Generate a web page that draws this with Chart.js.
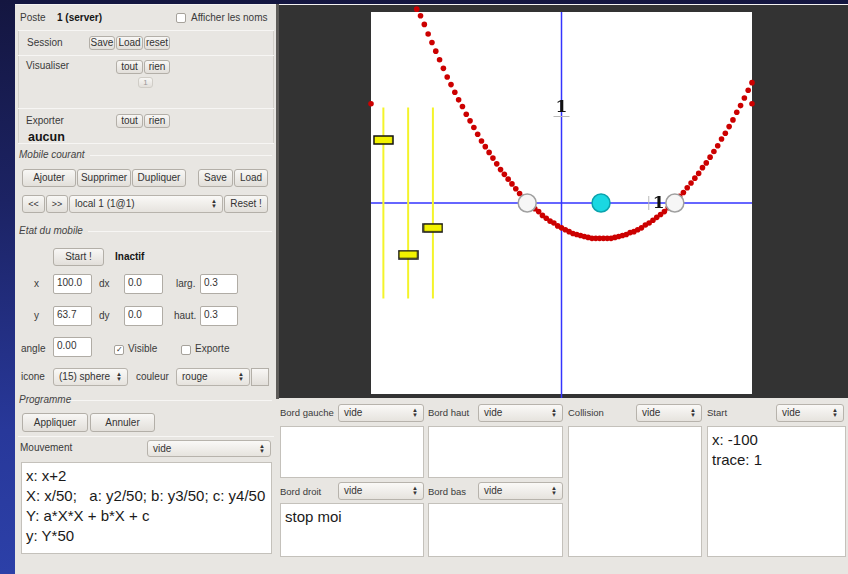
<!DOCTYPE html>
<html>
<head>
<meta charset="utf-8">
<script src="https://cdn.jsdelivr.net/npm/chart.js@4"></script>
<style>
  body { margin:0; width:848px; height:574px; overflow:hidden; position:relative;
         background: linear-gradient(180deg, #141640 0%, #1c2364 35%, #28389a 75%, #2c40a8 100%);
         font-family: "Liberation Sans", Arial, sans-serif; }
  .a { position:absolute; box-sizing:border-box; white-space:nowrap; }
  .lbl { font-size:10px; color:#3a3a3a; line-height:14px; }
  .b { font-weight:bold; color:#151515; }
  .it { font-style:italic; color:#444; }
  .btn { font-size:10px; color:#333; text-align:center; border:1px solid #b3afa8; border-radius:3px;
         background: linear-gradient(#f8f7f5, #e2dfda); }
  .inp { font-size:10px; color:#333; background:#fff; border:1px solid #b0aca5; border-radius:2px; padding:2px 0 0 3px; }
  .sel { font-size:10px; color:#333; border:1px solid #b7b3ac; border-radius:3px; padding-left:5px;
         background: linear-gradient(#faf9f7, #e6e3de); }
  .arr { position:absolute; right:5px; top:3px; font-size:6px; line-height:5px; color:#333; }
  .sep { height:1px; background:#cbc8c2; border-bottom:1px solid #f7f6f4; }
  .chk { width:10px; height:10px; background:#fff; border:1px solid #a6a29b; border-radius:2px;
         font-size:8px; line-height:8px; text-align:center; color:#333; }
  .txt { background:#fff; border:1px solid #c4c1bb; font-size:15px; color:#1a1a1a; line-height:20px; padding:3px 0 0 4px; }
  .sm { font-size:9.5px; }
</style>
</head>
<body>
<canvas id="scene" width="569" height="393" class="a" style="left:279px; top:5px;"></canvas>
<script>
// trace of the mobile: x goes -76..100 step 2, X = x/50
const traceX = [-1.52, -1.48, -1.44, -1.40, -1.36, -1.32, -1.28, -1.24, -1.20, -1.16, -1.12, -1.08, -1.04, -1.00,
  -0.96, -0.92, -0.88, -0.84, -0.80, -0.76, -0.72, -0.68, -0.64, -0.60, -0.56, -0.52, -0.48, -0.44, -0.40,
  -0.36, -0.32, -0.28, -0.24, -0.20, -0.16, -0.12, -0.08, -0.04, 0.00, 0.04, 0.08, 0.12, 0.16, 0.20, 0.24,
  0.28, 0.32, 0.36, 0.40, 0.44, 0.48, 0.52, 0.56, 0.60, 0.64, 0.68, 0.72, 0.76, 0.80, 0.84, 0.88, 0.92,
  0.96, 1.00, 1.04, 1.08, 1.12, 1.16, 1.20, 1.24, 1.28, 1.32, 1.36, 1.40, 1.44, 1.48, 1.52, 1.56, 1.60,
  1.64, 1.68, 1.72, 1.76, 1.80, 1.84, 1.88, 1.92, 1.96, 2.00];
const traceY = [2.03, 1.96, 1.87, 1.77, 1.68, 1.59, 1.50, 1.41, 1.32, 1.24, 1.16, 1.08, 1.01, 0.93,
  0.86, 0.79, 0.72, 0.65, 0.59, 0.53, 0.47, 0.41, 0.35, 0.30, 0.25, 0.20, 0.15, 0.10, 0.06,
  0.02, -0.02, -0.06, -0.09, -0.13, -0.16, -0.19, -0.21, -0.24, -0.26, -0.28, -0.30, -0.32, -0.33, -0.34, -0.35,
  -0.36, -0.37, -0.37, -0.37, -0.37, -0.37, -0.37, -0.36, -0.35, -0.34, -0.33, -0.31, -0.30, -0.28, -0.26, -0.23, -0.21,
  -0.18, -0.15, -0.12, -0.09, -0.05, -0.01, 0.03, 0.07, 0.11, 0.16, 0.21, 0.26, 0.31, 0.37, 0.42, 0.48, 0.54,
  0.60, 0.67, 0.73, 0.80, 0.87, 0.95, 1.02, 1.10, 1.18, 1.26];
// stray dots on the left / right border
const edgeX = [-2.00, 2.00];
const edgeY = [1.04, 1.04];
// sliders y2, y3, y4 (a, b, c)
const sliderX = [-1.87, -1.61, -1.35];
const sliderY = [0.66, -0.54, -0.26];
const sliderMin = -1, sliderMax = 1;
// roots and middle point on the X axis
const rootX = [-0.36, 1.19];
const midX = [0.415];
const axisMin = -2, axisMax = 2;

// ---- GUI around the scene ----
function put(cls, x, y, w, h, text, extra) {
  var d = document.createElement('div');
  d.className = 'a ' + cls;
  d.style.left = x + 'px'; d.style.top = y + 'px';
  if (w) d.style.width = w + 'px';
  if (h) { d.style.height = h + 'px'; if (cls.indexOf('btn') >= 0) d.style.lineHeight = (h - 2) + 'px'; }
  if (text !== undefined) d.innerHTML = text;
  if (extra) d.style.cssText += extra;
  document.body.insertBefore(d, document.getElementById('scene'));
  return d;
}
function sel(x, y, w, h, text) {
  var d = put('sel', x, y, w, h, text, 'line-height:' + (h - 2) + 'px;');
  var s = document.createElement('span'); s.className = 'arr'; s.innerHTML = '&#9650;<br>&#9660;';
  s.style.top = ((h - 12) / 2) + 'px';
  d.appendChild(s);
}

put('', 15, 4, 833, 570, '', 'background:#e8e6e2; border-top:1px solid #f4f3f1;');
put('', 276, 4, 3, 395, '', 'background:#5d5b58;');
put('', 18, 30, 256, 114, '', 'border-left:1px solid #d2cfc9; border-right:1px solid #d2cfc9;');

put('lbl', 20, 11, 0, 0, 'Poste');
put('lbl b', 57, 11, 0, 0, '1 (server)');
put('chk', 176, 13, 10, 10, '');
put('lbl', 191, 11, 0, 0, 'Afficher les noms');
put('sep', 18, 30, 256);
put('lbl', 27, 36, 0, 0, 'Session');
put('btn', 89, 36, 26, 14, 'Save');
put('btn', 116, 36, 27, 14, 'Load');
put('btn', 144, 36, 26, 14, 'reset');
put('sep', 18, 55, 256);
put('lbl', 26, 59, 0, 0, 'Visualiser');
put('btn', 116, 60, 27, 14, 'tout');
put('btn', 144, 60, 26, 14, 'rien');
put('btn', 138, 77, 15, 11, '1', 'font-size:8px; color:#999; border-color:#d0cdc7;');
put('sep', 18, 108, 256);
put('lbl', 26, 114, 0, 0, 'Exporter');
put('btn', 116, 114, 27, 14, 'tout');
put('btn', 144, 114, 26, 14, 'rien');
put('lbl b', 28, 130, 0, 0, 'aucun', 'font-size:12.5px;');
put('sep', 18, 143, 256);
put('lbl it', 19, 148, 0, 0, 'Mobile courant');
put('sep', 90, 155, 182);

put('btn', 22, 169, 54, 18, 'Ajouter');
put('btn', 77, 169, 54, 18, 'Supprimer');
put('btn', 132, 169, 54, 18, 'Dupliquer');
put('btn', 198, 169, 35, 18, 'Save');
put('btn', 234, 169, 34, 18, 'Load');
put('btn', 22, 195, 23, 18, '&lt;&lt;', 'font-size:9px;');
put('btn', 46, 195, 22, 18, '&gt;&gt;', 'font-size:9px;');
sel(69, 195, 154, 18, 'local 1 (1@1)');
put('btn', 224, 195, 44, 18, 'Reset !');

put('lbl it', 19, 224, 0, 0, 'Etat du mobile');
put('sep', 88, 231, 184);
put('btn', 53, 248, 51, 18, 'Start !');
put('lbl b', 115, 250, 0, 0, 'Inactif');
put('lbl', 34, 277, 0, 0, 'x');
put('inp', 53, 274, 39, 20, '100.0');
put('lbl', 99, 277, 0, 0, 'dx');
put('inp', 124, 274, 39, 20, '0.0');
put('lbl', 176, 277, 0, 0, 'larg.');
put('inp', 200, 274, 38, 20, '0.3');
put('lbl', 34, 309, 0, 0, 'y');
put('inp', 53, 306, 39, 20, '63.7');
put('lbl', 99, 309, 0, 0, 'dy');
put('inp', 124, 306, 39, 20, '0.0');
put('lbl', 174, 309, 0, 0, 'haut.');
put('inp', 200, 306, 38, 20, '0.3');
put('lbl', 21, 342, 0, 0, 'angle');
put('inp', 53, 337, 39, 20, '0.00');
put('chk', 114, 345, 10, 10, '&#10003;');
put('lbl', 128, 342, 0, 0, 'Visible');
put('chk', 181, 345, 10, 10, '');
put('lbl', 195, 342, 0, 0, 'Exporte');
put('lbl', 21, 370, 0, 0, 'icone');
sel(53, 368, 75, 18, '(15) sphere');
put('lbl', 136, 370, 0, 0, 'couleur');
sel(176, 368, 74, 18, 'rouge');
put('btn', 251, 368, 18, 18, '', 'border-radius:0;');

put('lbl it', 19, 393, 0, 0, 'Programme');
put('sep', 68, 400, 204);
put('btn', 22, 413, 66, 19, 'Appliquer');
put('btn', 90, 413, 65, 19, 'Annuler');
put('sep', 18, 436, 256);
put('lbl', 20, 441, 0, 0, 'Mouvement');
sel(147, 440, 124, 17, 'vide');
put('txt', 21, 462, 251, 92, 'x: x+2<br>X: x/50;&nbsp;&nbsp; a: y2/50; b: y3/50; c: y4/50<br>Y: a*X*X + b*X + c<br>y: Y*50');

put('lbl sm', 280, 406, 0, 0, 'Bord gauche');
sel(338, 404, 86, 18, 'vide');
put('lbl sm', 428, 406, 0, 0, 'Bord haut');
sel(478, 404, 85, 18, 'vide');
put('lbl sm', 568, 406, 0, 0, 'Collision');
sel(636, 404, 66, 18, 'vide');
put('lbl sm', 707, 406, 0, 0, 'Start');
sel(776, 404, 68, 18, 'vide');
put('txt', 280, 426, 144, 52, '');
put('txt', 428, 426, 135, 52, '');
put('txt', 568, 426, 134, 131, '');
put('txt', 707, 426, 139, 131, 'x: -100<br>trace: 1');
put('lbl sm', 280, 485, 0, 0, 'Bord droit');
sel(338, 482, 86, 18, 'vide');
put('lbl sm', 428, 485, 0, 0, 'Bord bas');
sel(478, 482, 85, 18, 'vide');
put('txt', 280, 503, 144, 54, 'stop moi');
put('txt', 428, 503, 135, 54, '');

// ---- the scene ----
var ctx = document.getElementById('scene').getContext('2d');

// yellow slider handle
var handle = document.createElement('canvas');
handle.width = 21; handle.height = 10;
var hc = handle.getContext('2d');
hc.fillStyle = '#f2f200'; hc.fillRect(1, 1, 19, 8);
hc.strokeStyle = '#111'; hc.lineWidth = 1.5; hc.strokeRect(1, 1, 19, 8);

var backdrop = {
  id: 'backdrop',
  beforeDraw: function(chart) {
    var c = chart.ctx, a = chart.chartArea;
    c.save();
    c.fillStyle = '#333333';
    c.fillRect(0, 0, chart.width, chart.height);
    c.fillStyle = '#ffffff';
    c.fillRect(a.left, a.top, a.right - a.left, a.bottom - a.top);
    c.restore();
  },
  beforeDatasetsDraw: function(chart) {
    var c = chart.ctx, a = chart.chartArea;
    var x0 = chart.scales.x.getPixelForValue(0), y0 = chart.scales.y.getPixelForValue(0);
    var x1 = chart.scales.x.getPixelForValue(1), y1 = chart.scales.y.getPixelForValue(1);
    c.save();
    c.strokeStyle = '#3434ff'; c.lineWidth = 1.5;
    c.beginPath();
    c.moveTo(a.left, y0); c.lineTo(a.right, y0);
    c.moveTo(x0, a.top); c.lineTo(x0, chart.height);
    c.stroke();
    // unit labels
    c.strokeStyle = '#b8b8b8'; c.lineWidth = 1;
    c.beginPath();
    c.moveTo(x0 - 8, y1 + 9); c.lineTo(x0 + 8, y1 + 9);
    c.moveTo(x1 - 8, y0 - 7); c.lineTo(x1 - 8, y0 + 7);
    c.stroke();
    c.fillStyle = '#111';
    c.font = 'bold 17px "DejaVu Serif"';
    c.textAlign = 'center'; c.textBaseline = 'middle';
    c.fillText('1', x0, y1);
    c.fillText('1', x1 + 2, y0 + 1);
    c.restore();
  }
};

function pts(xs, ys) { return xs.map(function(x, i) { return {x: x, y: ys[i]}; }); }

var datasets = [
  {data: pts(midX, [0]), pointRadius: 9, backgroundColor: '#1ad8e2', borderColor: '#0aa3ad', borderWidth: 1.5},
  {data: pts(rootX, [0, 0]), pointRadius: 9, backgroundColor: '#f6f6f6', borderColor: '#a0a0a0', borderWidth: 1.5},
  {data: pts(sliderX, sliderY), pointStyle: handle},
  {data: pts(traceX, traceY), pointRadius: 2.8, backgroundColor: '#cc0000', borderWidth: 0},
  {data: pts(edgeX, edgeY), pointRadius: 2.8, backgroundColor: '#cc0000', borderWidth: 0}
];
sliderX.forEach(function(x) {
  datasets.push({type: 'line', data: [{x: x, y: sliderMin}, {x: x, y: sliderMax}],
    borderColor: '#f4f42a', borderWidth: 2, pointRadius: 0});
});
datasets.forEach(function(d) { d.clip = false; });

var sceneChart = new Chart(ctx, {
  type: 'scatter',
  data: { datasets: datasets },
  options: {
    responsive: false,
    animation: false,
    layout: { autoPadding: false, padding: { left: 92, right: 96, top: 7, bottom: 4 } },
    plugins: { legend: { display: false }, tooltip: { enabled: false } },
    scales: {
      x: { type: 'linear', min: axisMin, max: axisMax, display: false },
      y: { type: 'linear', min: axisMin, max: axisMax, display: false }
    }
  },
  plugins: [backdrop]
});
</script>
</body>
</html>
